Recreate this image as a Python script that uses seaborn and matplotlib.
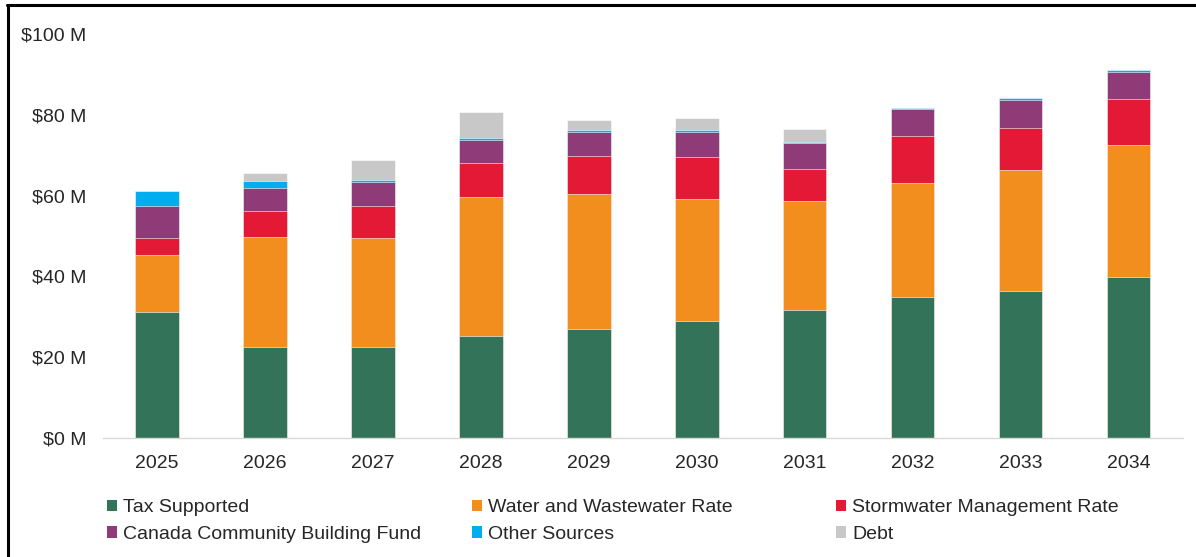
import seaborn as sns
import matplotlib.pyplot as plt
import pandas as pd
from matplotlib.patches import Patch
from matplotlib.lines import Line2D

years = ["2025", "2026", "2027", "2028", "2029", "2030", "2031", "2032", "2033", "2034"]

# Values in $ millions
tax_supported = [31.1, 22.6, 22.6, 25.3, 26.9, 29.0, 31.7, 34.9, 36.5, 39.8]
water_wastewater = [14.2, 27.1, 26.9, 34.3, 33.5, 30.2, 27.0, 28.3, 29.8, 32.7]
stormwater = [4.1, 6.6, 7.9, 8.4, 9.3, 10.4, 7.8, 11.6, 10.5, 11.3]
ccbf = [8.1, 5.6, 6.0, 5.8, 6.1, 6.2, 6.4, 6.6, 6.9, 6.9]
other_sources = [3.6, 1.6, 0.4, 0.5, 0.5, 0.5, 0.4, 0.3, 0.5, 0.4]
debt = [0.0, 2.2, 5.0, 6.3, 2.4, 3.0, 3.2, 0.0, 0.0, 0.0]

series = {
    "Tax Supported": tax_supported,
    "Water and Wastewater Rate": water_wastewater,
    "Stormwater Management Rate": stormwater,
    "Canada Community Building Fund": ccbf,
    "Other Sources": other_sources,
    "Debt": debt,
}
colors = {
    "Tax Supported": "#33735A",
    "Water and Wastewater Rate": "#F28E1E",
    "Stormwater Management Rate": "#E31936",
    "Canada Community Building Fund": "#8F3B78",
    "Other Sources": "#00AEEF",
    "Debt": "#C8C8C8",
}

df = pd.DataFrame(series, index=years)
cum = df.cumsum(axis=1)

sns.set_style("white")
plt.rcParams["font.family"] = ["Liberation Sans", "DejaVu Sans"]

fig = plt.figure(figsize=(11.96, 5.57), dpi=100)
ax = fig.add_axes([0.0861, 0.2136, 0.9029, 0.7254])

# Stacked bars: draw cumulative totals from the top layer down
for name in reversed(list(series.keys())):
    sns.barplot(
        x=years,
        y=cum[name].values,
        color=colors[name],
        width=0.4,
        saturation=1,
        edgecolor="white",
        linewidth=0.4,
        ax=ax,
    )

ax.set_xlim(-0.5, 9.5)
ax.set_ylim(0, 100)
ax.set_yticks(range(0, 101, 20))
ax.set_yticklabels([f"${v} M" for v in range(0, 101, 20)])
ax.tick_params(axis="y", length=0, pad=12, labelsize=14)
ax.tick_params(axis="x", length=0, pad=12, labelsize=14)
for side in ["top", "right", "left"]:
    ax.spines[side].set_visible(False)
ax.spines["bottom"].set_color("#D9D9D9")
ax.spines["bottom"].set_linewidth(1)
ax.grid(False)

# Legend: three columns of two entries each
names = list(series.keys())
col_x = [0.0895, 0.3946, 0.699]
for i, x0 in enumerate(col_x):
    handles = [
        Patch(facecolor=colors[n], edgecolor="none", label=n)
        for n in (names[i], names[i + 3])
    ]
    fig.legend(
        handles=handles,
        loc="upper left",
        bbox_to_anchor=(x0, 0.104),
        frameon=False,
        fontsize=14,
        handlelength=0.52,
        handleheight=0.52,
        handletextpad=0.3,
        labelspacing=0.5,
        borderaxespad=0,
        borderpad=0,
    )

# Partial frame at top and left
fig.add_artist(Line2D([7 / 1196, 1], [1 - 5 / 557, 1 - 5 / 557],
                      color="black", linewidth=2.2, transform=fig.transFigure))
fig.add_artist(Line2D([8 / 1196, 8 / 1196], [0, 1 - 5 / 557],
                      color="black", linewidth=2.2, transform=fig.transFigure))

fig.savefig("out.png", dpi=100)
